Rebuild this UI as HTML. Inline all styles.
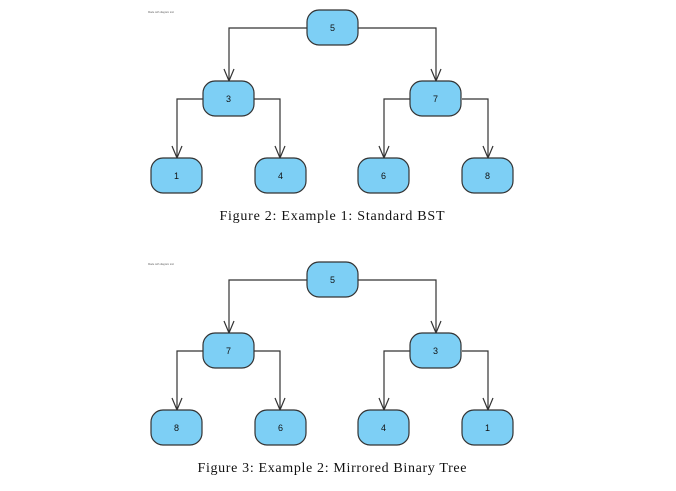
<!DOCTYPE html>
<html><head><meta charset="utf-8"><style>
html,body{margin:0;padding:0;background:#fff;}
svg{display:block;}
</style></head><body>
<svg width="676" height="491" viewBox="0 0 676 491" xmlns="http://www.w3.org/2000/svg">
<defs>
<g id="tree">
  <g fill="none" stroke="#333" stroke-width="1.2">
    <path d="M307 28 H229 V81"/><path d="M224 69 L229 81 L234 69"/>
    <path d="M358 28 H436 V81"/><path d="M431 69 L436 81 L441 69"/>
    <path d="M203 99 H177 V158"/><path d="M172 146 L177 158 L182 146"/>
    <path d="M254 99 H280 V158"/><path d="M275 146 L280 158 L285 146"/>
    <path d="M410 99 H384 V158"/><path d="M379 146 L384 158 L389 146"/>
    <path d="M462 99 H488 V158"/><path d="M483 146 L488 158 L493 146"/>
  </g>
  <g fill="#7dcff5" stroke="#333" stroke-width="1.2">
    <rect x="307" y="10" width="51" height="35" rx="12"/>
    <rect x="203" y="81" width="51" height="35" rx="12"/>
    <rect x="410" y="81" width="51" height="35" rx="12"/>
    <rect x="151" y="158" width="51" height="35" rx="12"/>
    <rect x="255" y="158" width="51" height="35" rx="12"/>
    <rect x="358" y="158" width="51" height="35" rx="12"/>
    <rect x="462" y="158" width="51" height="35" rx="12"/>
  </g>
  <text x="148" y="13" font-family="Liberation Sans, sans-serif" font-size="2.5" fill="#666">Made with diagram tool</text>
</g>
</defs>
<use href="#tree"/>
<g font-family="Liberation Sans, sans-serif" font-size="9" fill="#111" text-anchor="middle">
  <text x="332.5" y="31">5</text><text x="228.5" y="102">3</text><text x="435.5" y="102">7</text>
  <text x="176.5" y="179">1</text><text x="280.5" y="179">4</text><text x="383.5" y="179">6</text><text x="487.5" y="179">8</text>
</g>
<text x="332" y="220" font-family="Liberation Serif, serif" font-size="14" text-anchor="middle" fill="#111" textLength="225">Figure 2: Example 1: Standard BST</text>

<use href="#tree" y="252"/>
<g font-family="Liberation Sans, sans-serif" font-size="9" fill="#111" text-anchor="middle">
  <text x="332.5" y="283">5</text><text x="228.5" y="354">7</text><text x="435.5" y="354">3</text>
  <text x="176.5" y="431">8</text><text x="280.5" y="431">6</text><text x="383.5" y="431">4</text><text x="487.5" y="431">1</text>
</g>
<text x="332" y="472" font-family="Liberation Serif, serif" font-size="14" text-anchor="middle" fill="#111" textLength="269">Figure 3: Example 2: Mirrored Binary Tree</text>
</svg>
</body></html>
